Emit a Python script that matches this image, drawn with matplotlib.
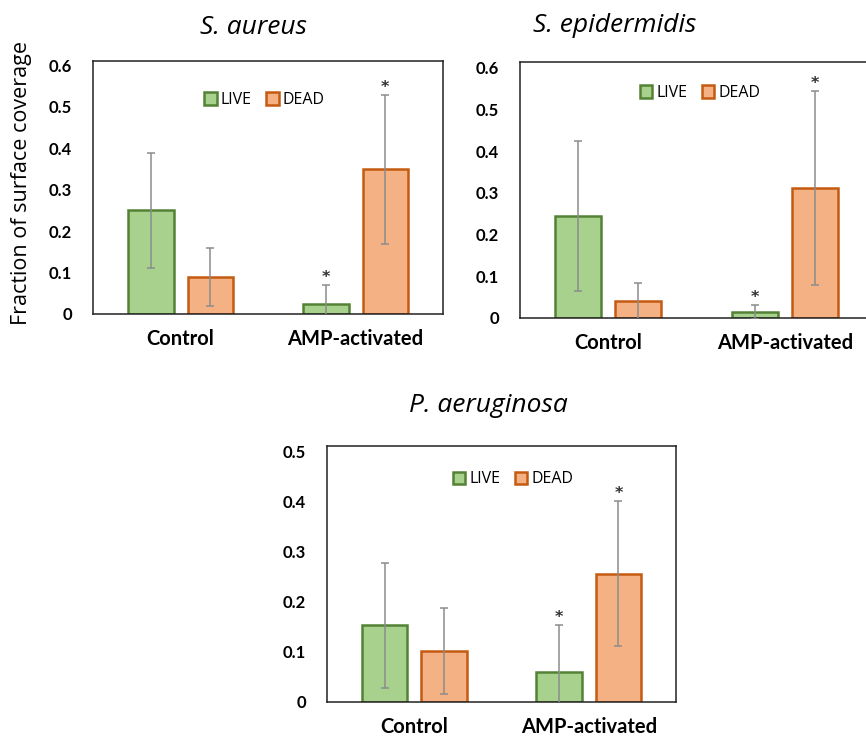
import matplotlib
matplotlib.use("Agg")
import matplotlib.pyplot as plt
from matplotlib.patches import Patch
import numpy as np

# ---- data ----
categories = ["Control", "AMP-activated"]
series = ["LIVE", "DEAD"]

aureus_live = [0.25, 0.025]
aureus_live_err = [0.14, 0.045]
aureus_dead = [0.09, 0.35]
aureus_dead_err = [0.07, 0.18]
aureus_sig_live = [False, True]
aureus_sig_dead = [False, True]

epi_live = [0.245, 0.015]
epi_live_err = [0.18, 0.017]
epi_dead = [0.04, 0.312]
epi_dead_err = [0.045, 0.232]
epi_sig_live = [False, True]
epi_sig_dead = [False, True]

pae_live = [0.153, 0.06]
pae_live_err = [0.125, 0.094]
pae_dead = [0.101, 0.256]
pae_dead_err = [0.086, 0.145]
pae_sig_live = [False, True]
pae_sig_dead = [False, True]

titles = ["S. aureus", "S. epidermidis", "P. aeruginosa"]
ylabel = "Fraction of surface coverage"

# ---- style ----
W, H = 866, 736
DPI = 100
LIVE_FACE, LIVE_EDGE = "#A9D18E", "#548235"
DEAD_FACE, DEAD_EDGE = "#F4B183", "#C55A11"
ERR_COLOR = "#8C8C8C"
FONT = "Lato"
TFONT = "Open Sans"

fig = plt.figure(figsize=(W / DPI, H / DPI), dpi=DPI)


def px_axes(left, top, right, bottom):
    return fig.add_axes([left / W, 1 - bottom / H, (right - left) / W, (bottom - top) / H])


def draw_panel(ax, live, live_err, dead, dead_err, sig_live, sig_dead, ymax, ticks, legend_xy):
    x = np.arange(len(categories))
    bw = 0.26
    off = 0.17
    ax.bar(x - off, live, bw, color=LIVE_FACE, edgecolor=LIVE_EDGE, linewidth=1.8, zorder=2)
    ax.bar(x + off, dead, bw, color=DEAD_FACE, edgecolor=DEAD_EDGE, linewidth=1.8, zorder=2)
    ax.errorbar(x - off, live, yerr=live_err, fmt="none", ecolor=ERR_COLOR, elinewidth=1.1,
                capsize=3, capthick=1.1, zorder=3)
    ax.errorbar(x + off, dead, yerr=dead_err, fmt="none", ecolor=ERR_COLOR, elinewidth=1.1,
                capsize=3, capthick=1.1, zorder=3)
    for xs, vals, errs, sigs in ((x - off, live, live_err, sig_live), (x + off, dead, dead_err, sig_dead)):
        for xi, v, e, s in zip(xs, vals, errs, sigs):
            if s:
                ax.annotate("*", (xi, v + e), xytext=(0, 2), textcoords="offset points",
                            ha="center", va="baseline", fontsize=11.5, fontweight="bold",
                            fontfamily="DejaVu Sans", color="#333333")
    ax.set_xlim(-0.5, 1.5)
    ax.set_ylim(0, ymax)
    ax.set_yticks(ticks)
    ax.set_yticklabels(["0" if t == 0 else f"{t:.1f}" for t in ticks],
                       fontsize=12, fontweight="bold", fontfamily=FONT)
    ax.set_xticks(x)
    ax.set_xticklabels(categories, fontsize=14.5, fontweight="bold", fontfamily=FONT)
    ax.tick_params(axis="both", length=0)
    ax.tick_params(axis="y", pad=15)
    ax.tick_params(axis="x", pad=11)
    for sp in ax.spines.values():
        sp.set_color("#222222")
        sp.set_linewidth(1.1)
    handles = [Patch(facecolor=LIVE_FACE, edgecolor=LIVE_EDGE, linewidth=1.8, label=series[0]),
               Patch(facecolor=DEAD_FACE, edgecolor=DEAD_EDGE, linewidth=1.8, label=series[1])]
    ax.legend(handles=handles, loc="center", bbox_to_anchor=legend_xy, ncol=2, frameon=False,
              handlelength=0.8, handleheight=0.8, handletextpad=0.25, columnspacing=0.9,
              prop={"family": "Open Sans", "size": 11.5})


ax1 = px_axes(93, 61, 443, 314)
draw_panel(ax1, aureus_live, aureus_live_err, aureus_dead, aureus_dead_err,
           aureus_sig_live, aureus_sig_dead, 0.611, [0, 0.1, 0.2, 0.3, 0.4, 0.5, 0.6], (0.49, 0.846))

ax2 = px_axes(520, 62, 873, 318)
draw_panel(ax2, epi_live, epi_live_err, epi_dead, epi_dead_err,
           epi_sig_live, epi_sig_dead, 0.614, [0, 0.1, 0.2, 0.3, 0.4, 0.5, 0.6], (0.51, 0.879))

ax3 = px_axes(327, 446, 676, 702)
draw_panel(ax3, pae_live, pae_live_err, pae_dead, pae_dead_err,
           pae_sig_live, pae_sig_dead, 0.511, [0, 0.1, 0.2, 0.3, 0.4, 0.5], (0.533, 0.870))

fig.text(253 / W, 1 - 27 / H, titles[0], ha="center", va="center", fontsize=19,
         fontstyle="italic", fontfamily=TFONT)
fig.text(615 / W, 1 - 25 / H, titles[1], ha="center", va="center", fontsize=19,
         fontstyle="italic", fontfamily=TFONT)
fig.text(488 / W, 1 - 405 / H, titles[2], ha="center", va="center", fontsize=19,
         fontstyle="italic", fontfamily=TFONT)
fig.text(22 / W, 1 - 183 / H, ylabel, ha="center", va="center", rotation=90, fontsize=15.5,
         fontfamily=TFONT)

fig.savefig("out.png", dpi=DPI)
